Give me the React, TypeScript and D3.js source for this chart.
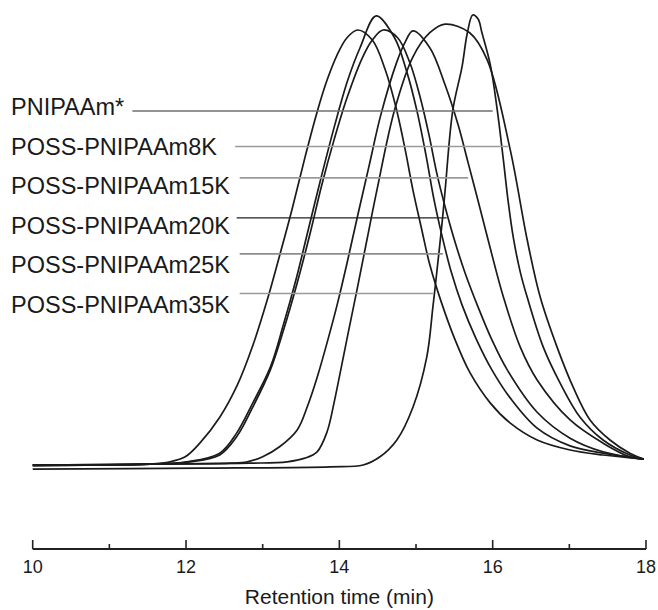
import * as d3 from 'd3';

// GPC traces, retention time (min) vs normalised detector response
const sampleNames = [
  'PNIPAAm*',
  'POSS-PNIPAAm8K',
  'POSS-PNIPAAm15K',
  'POSS-PNIPAAm20K',
  'POSS-PNIPAAm25K',
  'POSS-PNIPAAm35K',
];

const pnipaam: [number, number][] = [
  [10.0, 0.2], [12.18, 0.4], [13.88, 0.7], [14.31, 1.1], [14.53, 2.9], [14.75, 6.6],
  [14.96, 13.8], [15.14, 24.8], [15.22, 35.8], [15.27, 43.3], [15.34, 54.3], [15.38, 61.5],
  [15.48, 79.1], [15.6, 88.6], [15.67, 96.1], [15.74, 100], [15.81, 99.1], [15.86, 96.1],
  [15.97, 89.0], [16.06, 79.1], [16.14, 68.1], [16.2, 59.3], [16.27, 51.0], [16.36, 43.5],
  [16.45, 38.0], [16.66, 27.0], [16.88, 19.1], [17.14, 11.6], [17.44, 6.6], [17.79, 3.3],
  [17.97, 2.4],
];

const poss8k: [number, number][] = [
  [10.0, 1.1], [11.53, 1.3], [12.83, 1.5], [13.32, 1.8], [13.55, 2.6], [13.71, 4.0],
  [13.84, 8.4], [13.93, 14.7], [14.01, 21.3], [14.11, 29.7], [14.23, 39.6], [14.36, 50.6],
  [14.49, 61.5], [14.72, 79.1], [14.96, 90.8], [15.18, 96.1], [15.38, 98.0], [15.7, 96.1],
  [15.93, 90.1], [16.23, 70.3], [16.45, 50.6], [16.62, 38.0], [16.84, 27.0], [17.05, 18.2],
  [17.27, 11.0], [17.53, 6.6], [17.79, 3.7], [17.97, 2.4],
];

const poss15k: [number, number][] = [
  [10.0, 1.1], [11.53, 1.3], [12.57, 1.5], [12.8, 1.8], [13.0, 2.9], [13.22, 5.1],
  [13.45, 8.8], [13.59, 14.3], [13.72, 20.9], [13.85, 28.6], [13.98, 36.9], [14.11, 46.2],
  [14.24, 56.0], [14.39, 67.0], [14.54, 78.0], [14.75, 89.7], [14.86, 94.1], [14.96, 96.5],
  [15.18, 92.8], [15.38, 84.6], [15.55, 75.8], [15.68, 67.5], [15.8, 59.8], [15.94, 50.6],
  [16.14, 38.0], [16.36, 27.0], [16.58, 19.8], [17.01, 11.0], [17.44, 5.9], [17.79, 2.9],
  [17.97, 2.4],
];

const poss20k: [number, number][] = [
  [10.0, 1.1], [11.53, 1.3], [12.05, 1.8], [12.44, 3.3], [12.66, 7.3], [12.87, 13.8],
  [13.1, 22.0], [13.28, 31.2], [13.45, 41.1], [13.62, 52.1], [13.77, 62.6], [13.93, 72.5],
  [14.1, 81.8], [14.3, 90.6], [14.43, 94.5], [14.57, 96.7], [14.76, 95.0], [14.92, 89.5],
  [15.05, 82.2], [15.17, 73.6], [15.27, 65.3], [15.38, 57.8], [15.5, 50.6], [15.64, 43.3],
  [15.81, 35.8], [15.99, 28.6], [16.19, 22.0], [16.58, 12.7], [17.01, 7.0], [17.44, 4.0],
  [17.97, 2.4],
];

const poss25k: [number, number][] = [
  [10.0, 1.1], [11.53, 1.3], [12.01, 1.8], [12.44, 3.7], [12.66, 8.1], [12.87, 14.7],
  [13.1, 22.6], [13.27, 31.9], [13.44, 42.2], [13.6, 53.2], [13.77, 64.8], [13.94, 75.8],
  [14.11, 85.7], [14.27, 92.8], [14.48, 99.8], [14.72, 95.0], [14.88, 87.5], [15.01, 79.1],
  [15.13, 69.2], [15.23, 59.8], [15.34, 51.4], [15.46, 43.5], [15.6, 36.3], [15.78, 29.0],
  [15.99, 22.0], [16.23, 15.8], [16.58, 9.2], [17.01, 5.3], [17.44, 3.7], [17.97, 2.4],
];

const poss35k: [number, number][] = [
  [10.0, 0.9], [10.88, 1.1], [11.53, 1.3], [11.79, 1.8], [11.99, 2.9], [12.18, 5.9],
  [12.44, 11.6], [12.67, 18.7], [12.87, 27.3], [13.06, 37.4], [13.23, 47.7], [13.38, 57.1],
  [13.55, 68.6], [13.71, 78.7], [13.84, 85.7], [13.97, 91.2], [14.1, 95.0], [14.24, 96.7],
  [14.43, 94.5], [14.6, 87.9], [14.74, 79.6], [14.86, 70.3], [14.96, 61.5], [15.07, 53.2],
  [15.18, 45.1], [15.33, 36.9], [15.51, 28.6], [15.7, 21.5], [15.97, 14.7], [16.23, 10.3],
  [16.58, 6.6], [17.01, 4.4], [17.44, 3.3], [17.97, 2.4],
];

const traces = [pnipaam, poss8k, poss15k, poss20k, poss25k, poss35k];

// leader lines from each label to its trace
const leaderStart = [11.3, 12.64, 12.7, 12.66, 12.7, 12.7];
const leaderEnd = [16.0, 16.2, 15.68, 15.4, 15.35, 15.22];
const leaderLevel = [78.9, 71.1, 64.2, 55.4, 47.5, 38.8];
const leaderColor = ['#6f6f6f', '#9a9a9a', '#9a9a9a', '#222', '#8c8c8c', '#9a9a9a'];

const majorTicks = [10, 12, 14, 16, 18];
const minorTicks = [11, 13, 15, 17];

const width = 658;
const height = 610;
const font = "'Liberation Sans', Arial, Helvetica, sans-serif";

export default function App() {
  const x = d3.scaleLinear().domain([10, 18]).range([32.7, 646]);
  const y = d3.scaleLinear().domain([0, 100]).range([470, 15]);
  const axisY = 549;

  const line = d3
    .line<[number, number]>()
    .x((d) => x(d[0]))
    .y((d) => y(d[1]))
    .curve(d3.curveCatmullRom.alpha(0.5));

  return (
    <svg
      width={width}
      height={height}
      style={{ position: 'absolute', left: 0, top: 0, background: '#fff' }}
      fontFamily={font}
    >
      {traces.map((t, i) => (
        <path key={i} d={line(t) ?? ''} fill="none" stroke="#1b1b1b" strokeWidth={1.7} />
      ))}

      {sampleNames.map((name, i) => (
        <g key={name}>
          <line
            x1={x(leaderStart[i])}
            x2={x(leaderEnd[i])}
            y1={y(leaderLevel[i])}
            y2={y(leaderLevel[i])}
            stroke={leaderColor[i]}
            strokeWidth={i === 3 ? 1.2 : 1.6}
          />
          <text x={11} y={115 + i * 39.5} fontSize={23.5} fill="#1a1a1a">
            {name}
          </text>
        </g>
      ))}

      <g>
        <line x1={x(10)} x2={x(18)} y1={axisY} y2={axisY} stroke="#222" strokeWidth={2} />
        {majorTicks.map((t) => (
          <g key={t}>
            <line x1={x(t)} x2={x(t)} y1={axisY} y2={axisY - 9} stroke="#222" strokeWidth={1.6} />
            <text x={x(t)} y={573} textAnchor="middle" fontSize={18} fill="#1a1a1a">
              {t}
            </text>
          </g>
        ))}
        {minorTicks.map((t) => (
          <line key={t} x1={x(t)} x2={x(t)} y1={axisY} y2={axisY - 5} stroke="#222" strokeWidth={1.6} />
        ))}
        <text x={x(14)} y={604} textAnchor="middle" fontSize={21} fill="#1a1a1a">
          Retention time (min)
        </text>
      </g>
    </svg>
  );
}
